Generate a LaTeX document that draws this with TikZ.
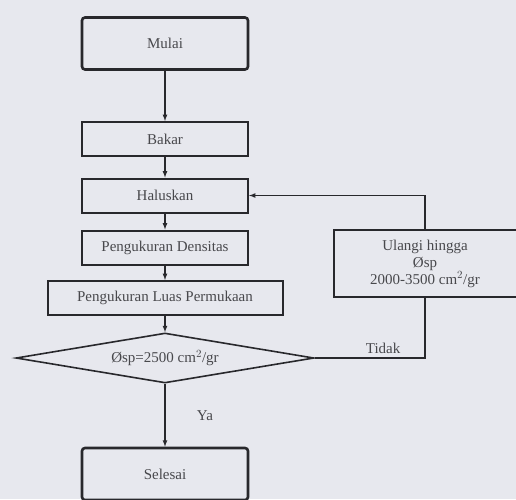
\documentclass[tikz,border=0pt]{standalone}
\usepackage{fontspec}
\setmainfont{Liberation Serif}
\usetikzlibrary{shapes.geometric}
\definecolor{kertas}{RGB}{231,232,238}
\definecolor{tinta}{RGB}{40,40,44}
\begin{document}
\begin{tikzpicture}[>=latex, x=1pt, y=-1pt, font=\fontsize{15}{17}\selectfont,
  proses/.style={draw=tinta, line width=2pt, minimum height=34pt, minimum width=166pt, inner sep=2pt, text=tinta!85},
  ujung/.style={proses, line width=2.6pt, rounded corners=3pt, minimum height=52pt},
  putusan/.style={diamond, draw=tinta, line width=1.6pt, minimum width=298pt, minimum height=50pt, inner sep=0pt, aspect=6, text=tinta!85},
  panah/.style={->, draw=tinta, line width=1.2pt}]
\useasboundingbox (0,0) rectangle (516,499);
\fill[kertas] (0,0) rectangle (516,499);
\node[ujung] (mulai) at (165,43.5) {Mulai};
\node[proses] (bakar) at (165,139) {Bakar};
\node[proses] (halus) at (165,195.5) {Haluskan};
\node[proses] (densitas) at (165,247.5) {Pengukuran Densitas};
\node[proses, minimum width=235pt] (luas) at (165,298) {Pengukuran Luas Permukaan};
\node[putusan] (cek) at (165,358) {Øsp=2500 cm$^2$/gr};
\node[proses, minimum width=183pt, minimum height=67pt, align=center] (ulang) at (425,263.5) {Ulangi hingga\\Øsp\\2000-3500 cm$^2$/gr};
\node[ujung] (selesai) at (165,474) {Selesai};
% alur utama
\draw[panah] (mulai) -- (bakar);
\draw[panah] (bakar) -- (halus);
\draw[panah] (halus) -- (densitas);
\draw[panah] (densitas) -- (luas);
\draw[panah] (luas) -- (cek);
\draw[panah] (cek) -- node[right=28pt, text=tinta!85]{Ya} (selesai);
% ulangi
\draw[tinta, line width=1.2pt] (cek.east) -- node[above, pos=.62, text=tinta!85]{Tidak} (ulang.south |- cek.east) -- (ulang.south);
\draw[panah] (ulang.north) |- (halus.east);
\end{tikzpicture}
\end{document}
